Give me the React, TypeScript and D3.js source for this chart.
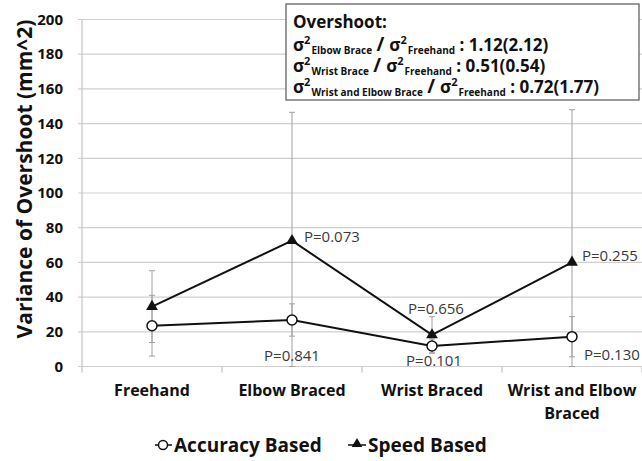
import React, { useEffect } from 'react';
import * as d3 from 'd3';

const categories = ['Freehand', 'Elbow Braced', 'Wrist Braced', 'Wrist and Elbow Braced'];
const accuracy = [23.5, 26.8, 11.8, 17.2];
const accuracyErr = [17.5, 9.3, 4, 11.6];
const speed = [34.5, 72.5, 18.2, 60];
const speedErr = [20.7, 74, 10.5, 88];
const yTicks = [0, 20, 40, 60, 80, 100, 120, 140, 160, 180, 200];
const pSpeed = ['P=0.073', 'P=0.656', 'P=0.255'];
const pAccuracy = ['P=0.841', 'P=0.101', 'P=0.130'];

const W = 642;
const H = 461;
const FONT = '"Open Sans", Lato, sans-serif';

function Sigma({ sub }: { sub: string }) {
  return (
    <>
      <tspan>σ</tspan>
      <tspan fontSize={11} dy={-7}>2</tspan>
      <tspan fontSize={10} dy={10} dx={1}>{sub}</tspan>
      <tspan dy={-3}> </tspan>
    </>
  );
}

export default function App() {
  useEffect(() => {
    document.body.style.margin = '0';
  }, []);

  const left = 82;
  const right = 642;
  const top = 19.5;
  const bottom = 366.5;

  const x = d3.scaleBand().domain(categories).range([left, right]);
  const y = d3.scaleLinear().domain([0, 200]).range([bottom, top]);
  const cx = (c: string) => (x(c) as number) + x.bandwidth() / 2;

  const line = d3.line<number>()
    .x((_, i) => cx(categories[i]))
    .y(d => y(d));

  const tri = d3.symbol().type(d3.symbolTriangle).size(60)();

  const errBar = (vals: number[], errs: number[], key: string) =>
    vals.map((v, i) => {
      const px = cx(categories[i]);
      const hi = y(Math.min(200, v + errs[i]));
      const lo = y(Math.max(0, v - errs[i]));
      return (
        <g key={key + i} stroke="#a0a0a0" strokeWidth={1}>
          <line x1={px} x2={px} y1={hi} y2={lo} />
          <line x1={px - 3} x2={px + 3} y1={hi} y2={hi} />
          <line x1={px - 3} x2={px + 3} y1={lo} y2={lo} />
        </g>
      );
    });

  // P-value label positions relative to markers (categories 1..3)
  const speedLabelPos = [
    { dx: 12, dy: -4, anchor: 'start' },
    { dx: 4, dy: -26, anchor: 'middle' },
    { dx: 10, dy: -7, anchor: 'start' },
  ];
  const accLabelPos = [
    { dx: 0, dy: 36, anchor: 'middle' },
    { dx: 2, dy: 15, anchor: 'middle' },
    { dx: 12, dy: 18, anchor: 'start' },
  ];

  return (
    <svg width={W} height={H} style={{ display: 'block', fontFamily: FONT }}>
      <rect width={W} height={H} fill="#fff" />
      {/* gridlines */}
      {yTicks.map(t => (
        <line key={t} x1={left - 4} x2={right} y1={y(t)} y2={y(t)} stroke="#cfcfcf" strokeWidth={1.2} />
      ))}
      <line x1={left} x2={left} y1={top} y2={bottom} stroke="#c4c4c4" strokeWidth={1.2} />
      {d3.range(categories.length + 1).map(i => {
        const px = left + i * x.bandwidth();
        return <line key={i} x1={px} x2={px} y1={bottom} y2={bottom + 6} stroke="#c4c4c4" strokeWidth={1.2} />;
      })}
      {/* y tick labels */}
      {yTicks.map(t => (
        <text key={t} x={63} y={y(t)} dy="0.35em" textAnchor="end" fontSize={15} fontWeight="bold" fill="#111">{t}</text>
      ))}
      <text transform={`translate(25,179) rotate(-90)`} textAnchor="middle" dy="0.35em" fontSize={21} fontWeight="bold" fill="#111">
        Variance of Overshoot (mm^2)
      </text>
      {/* category labels */}
      {categories.map(c => {
        const lines = c === 'Wrist and Elbow Braced' ? ['Wrist and Elbow', 'Braced'] : [c];
        return (
          <text key={c} x={cx(c)} y={396} textAnchor="middle" fontSize={16} fontWeight="bold" fill="#111">
            {lines.map((l, i) => (
              <tspan key={l} x={cx(c)} dy={i === 0 ? 0 : 23}>{l}</tspan>
            ))}
          </text>
        );
      })}
      {/* error bars */}
      {errBar(speed, speedErr, 's')}
      {errBar(accuracy, accuracyErr, 'a')}
      {/* lines */}
      <path d={line(accuracy) as string} fill="none" stroke="#111" strokeWidth={2} />
      <path d={line(speed) as string} fill="none" stroke="#111" strokeWidth={2} />
      {accuracy.map((v, i) => (
        <circle key={'ac' + i} cx={cx(categories[i])} cy={y(v)} r={5} fill="#fff" stroke="#111" strokeWidth={1.5} />
      ))}
      {speed.map((v, i) => (
        <path key={'sp' + i} d={tri as string} transform={`translate(${cx(categories[i])},${y(v)})`} fill="#111" />
      ))}
      {/* p labels */}
      {pSpeed.map((p, i) => {
        const pos = speedLabelPos[i];
        return (
          <text key={'ps' + i} x={cx(categories[i + 1]) + pos.dx} y={y(speed[i + 1]) + pos.dy} dy="0.35em"
            textAnchor={pos.anchor as any} fontSize={15} fill="#3a3a3a">{p}</text>
        );
      })}
      {pAccuracy.map((p, i) => {
        const pos = accLabelPos[i];
        return (
          <text key={'pa' + i} x={cx(categories[i + 1]) + pos.dx} y={y(accuracy[i + 1]) + pos.dy} dy="0.35em"
            textAnchor={pos.anchor as any} fontSize={15} fill="#3a3a3a">{p}</text>
        );
      })}
      {/* annotation box */}
      <rect x={286} y={4} width={353} height={96} fill="#fff" stroke="#555" strokeWidth={1.2} />
      <g fontSize={17} fontWeight="bold" fill="#111">
        <text x={293} y={28}>Overshoot:</text>
        <text x={293} y={51}>
          <Sigma sub="Elbow Brace" /><tspan fontSize={19}>/ </tspan><Sigma sub="Freehand" /><tspan>: 1.12(2.12)</tspan>
        </text>
        <text x={293} y={72}>
          <Sigma sub="Wrist Brace" /><tspan fontSize={19}>/ </tspan><Sigma sub="Freehand" /><tspan> : 0.51(0.54)</tspan>
        </text>
        <text x={293} y={93}>
          <Sigma sub="Wrist and Elbow Brace" /><tspan fontSize={19}>/ </tspan><Sigma sub="Freehand" /><tspan>: 0.72(1.77)</tspan>
        </text>
      </g>
      {/* legend */}
      <g fontSize={19} fontWeight="bold" fill="#111">
        <line x1={155} x2={172} y1={445} y2={445} stroke="#111" strokeWidth={1.5} />
        <circle cx={163} cy={445} r={4.5} fill="#fff" stroke="#111" strokeWidth={1.5} />
        <text x={174} y={445} dy="0.35em">Accuracy Based</text>
        <line x1={348} x2={366} y1={445} y2={445} stroke="#111" strokeWidth={1.5} />
        <path d={tri as string} transform="translate(357,444) scale(0.9)" fill="#111" />
        <text x={368} y={445} dy="0.35em">Speed Based</text>
      </g>
    </svg>
  );
}
